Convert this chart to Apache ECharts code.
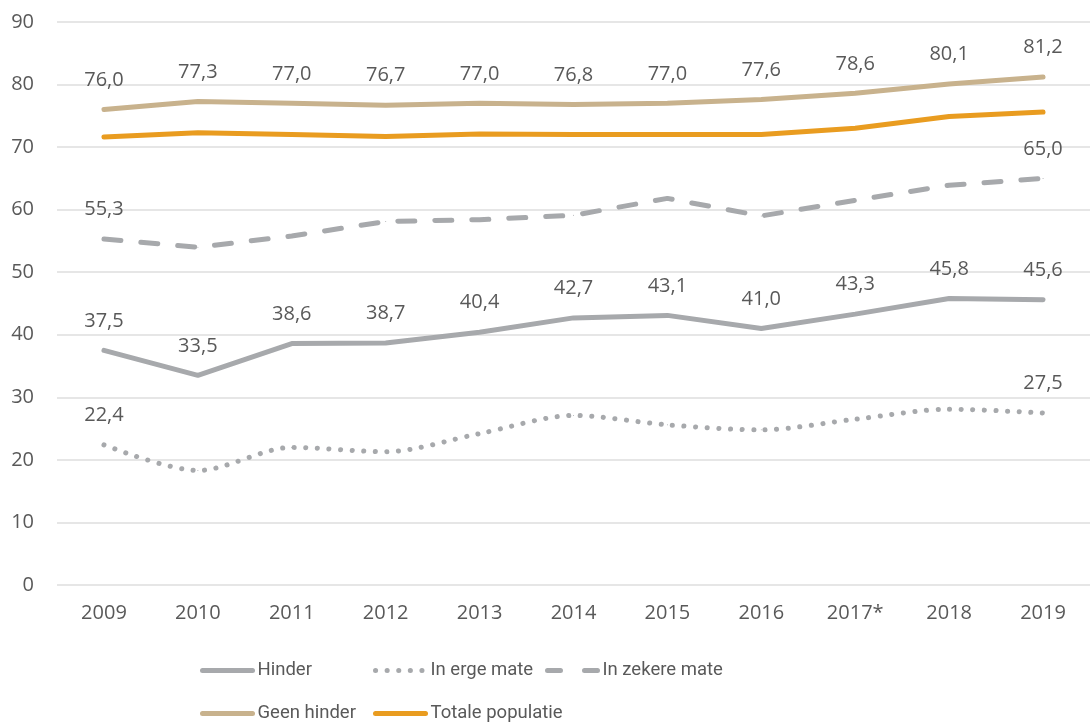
<!DOCTYPE html>
<html>
<head>
<meta charset="utf-8">
<script src="https://cdn.jsdelivr.net/npm/echarts@6/dist/echarts.min.js"></script>
<style>
  html, body { margin: 0; padding: 0; background: #fff; }
  #main { width: 1090px; height: 725px; }
</style>
</head>
<body>
<div id="main"></div>
<script>
// data
const years = ['2009', '2010', '2011', '2012', '2013', '2014', '2015', '2016', '2017*', '2018', '2019'];
const hinder = [37.5, 33.5, 38.6, 38.7, 40.4, 42.7, 43.1, 41.0, 43.3, 45.8, 45.6];
const ergeMate = [22.4, 18.3, 22.0, 21.3, 24.2, 27.1, 25.6, 24.8, 26.5, 28.1, 27.5];
const zekereMate = [55.3, 54.0, 55.8, 58.1, 58.4, 59.1, 61.8, 59.0, 61.5, 63.9, 65.0];
const geenHinder = [76.0, 77.3, 77.0, 76.7, 77.0, 76.8, 77.0, 77.6, 78.6, 80.1, 81.2];
const totaal = [71.6, 72.3, 72.0, 71.7, 72.1, 72.0, 72.0, 72.0, 73.0, 74.9, 75.6];
const yTicks = { min: 0, max: 90, interval: 10 };

const textColor = '#595959';
const gray = '#A7A9AC';
const tan = '#C8B28D';
const orange = '#E99C20';
const dotted = [0.1, 11.5];
const dashed = [17, 20];
const fmt = (p) => p.value.toFixed(1).replace('.', ',');

const labelStyle = {
    show: true,
    position: 'top',
    distance: 19,
    color: textColor,
    fontSize: 20,
    fontFamily: 'Open Sans',
    formatter: fmt
};

// only first and last point get a label
function endLabels(values) {
    return values.map((v, i) => ({
        value: v,
        label: { show: i === 0 || i === values.length - 1 }
    }));
}

function lineSeries(name, data, color, type, extra) {
    return Object.assign({
        name: name,
        type: 'line',
        data: data,
        symbol: 'circle',
        symbolSize: 1,
        showSymbol: true,
        lineStyle: { color: color, width: 5, type: type, cap: 'round' },
        itemStyle: { color: color },
        label: labelStyle,
        emphasis: { disabled: true }
    }, extra || {});
}

function legendItem(name, color, type, left, top) {
    return {
        data: [name],
        left: left,
        top: top,
        itemWidth: 50,
        itemHeight: 14,
        itemGap: 0,
        itemStyle: { opacity: 0 },
        lineStyle: { color: color, width: 5, type: type, cap: 'round' },
        textStyle: {
            color: textColor,
            fontSize: 18.5,
            fontFamily: 'Roboto'
        }
    };
}

let myChart = echarts.init(document.getElementById('main'));
let option = {
    animation: false,
    grid: {
        left: 57,
        right: -6,
        top: 22,
        bottom: 140
    },
    legend: [
        legendItem('Hinder', gray, 'solid', 195, 656),
        legendItem('In erge mate', gray, dotted, 368, 656),
        legendItem('In zekere mate', gray, [13, 24], 540, 656),
        legendItem('Geen hinder', tan, 'solid', 195, 699),
        legendItem('Totale populatie', orange, 'solid', 368, 699)
    ],
    xAxis: {
        type: 'category',
        data: years,
        boundaryGap: true,
        axisLine: { show: false },
        axisTick: { show: false },
        axisLabel: {
            color: textColor,
            fontSize: 20,
            fontFamily: 'Open Sans',
            margin: 18
        }
    },
    yAxis: {
        type: 'value',
        min: yTicks.min,
        max: yTicks.max,
        interval: yTicks.interval,
        axisLine: { show: false },
        axisTick: { show: false },
        splitLine: { lineStyle: { color: '#E6E6E6', width: 2 } },
        axisLabel: {
            color: textColor,
            fontSize: 20,
            fontFamily: 'Open Sans',
            margin: 23
        }
    },
    series: [
        lineSeries('Hinder', hinder, gray, 'solid'),
        lineSeries('In erge mate', endLabels(ergeMate), gray, dotted, { smooth: 0.3 }),
        lineSeries('In zekere mate', endLabels(zekereMate), gray, dashed),
        lineSeries('Geen hinder', geenHinder, tan, 'solid'),
        lineSeries('Totale populatie', totaal, orange, 'solid', { label: { show: false } })
    ]
};
myChart.setOption(option);
</script>
</body>
</html>
